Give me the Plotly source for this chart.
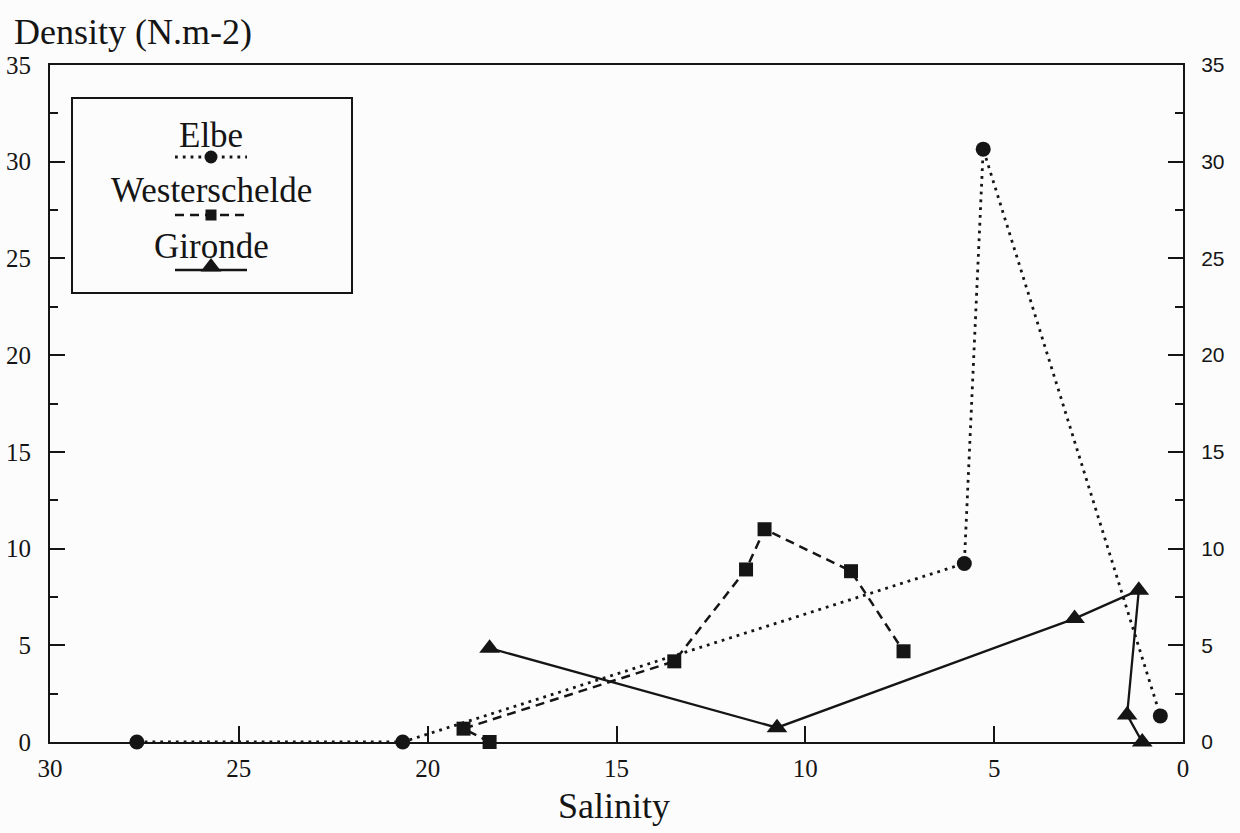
import plotly.graph_objects as go

# Salinity (x) and density (y) for each estuary
elbe_salinity = [27.7, 20.66, 5.79, 5.29, 0.6]
elbe_density = [0.0, 0.0, 9.23, 30.65, 1.35]

westerschelde_salinity = [18.36, 19.05, 13.47, 11.57, 11.08, 8.79, 7.40]
westerschelde_density = [0.0, 0.69, 4.17, 8.92, 11.0, 8.83, 4.69]

gironde_salinity = [18.36, 10.75, 2.87, 1.17, 1.48, 1.08]
gironde_density = [4.85, 0.74, 6.38, 7.85, 1.4, 0.0]

x_ticks = [30, 25, 20, 15, 10, 5, 0]
y_ticks = [0, 5, 10, 15, 20, 25, 30, 35]

series_names = ["Elbe", "Westerschelde", "Gironde"]

W, H = 1240, 833
L, R, T, B = 50, 1183, 65, 742  # plot-area edges in pixels
SERIF = "Liberation Serif"
SANS = "Liberation Sans"
INK = "#151515"

def px(xp):
    return (xp - L) / (R - L)

def py(yp):
    return (B - yp) / (B - T)

styles = [
    dict(symbol="circle", size=15, dash="2.8px,5px", width=2.8),
    dict(symbol="square", size=14, dash="9px,6px", width=2.5),
    dict(symbol="triangle-up", size=18, dash="solid", width=2.3),
]
data = [
    (elbe_salinity, elbe_density),
    (westerschelde_salinity, westerschelde_density),
    (gironde_salinity, gironde_density),
]

fig = go.Figure()
for name, (xs, ys), st in zip(series_names, data, styles):
    fig.add_trace(go.Scatter(
        x=xs, y=ys, name=name, mode="lines+markers",
        line=dict(color=INK, width=st["width"], dash=st["dash"]),
        marker=dict(symbol=st["symbol"], size=st["size"], color=INK),
        cliponaxis=False, showlegend=False,
    ))

# Hand-drawn key: box, name above a short line sample with its marker
key_box = dict(x0=72, x1=352, y0=98, y1=293)
key_rows = [(135, 157), (190, 215), (246, 270)]  # (text centre, sample line) in px
key_cx, key_x0, key_x1 = 211, 175, 247
key_sizes = [13, 11, 18]

fig.add_shape(type="rect", xref="paper", yref="paper",
              x0=px(key_box["x0"]), x1=px(key_box["x1"]),
              y0=py(key_box["y1"]), y1=py(key_box["y0"]),
              line=dict(color=INK, width=2), fillcolor="rgba(0,0,0,0)")

for name, (ty, ly), st, ms in zip(series_names, key_rows, styles, key_sizes):
    fig.add_annotation(text=name, xref="paper", yref="paper",
                       x=px(key_cx), y=py(ty), showarrow=False,
                       xanchor="center", yanchor="middle",
                       font=dict(family=SERIF, size=35, color=INK))
    fig.add_trace(go.Scatter(
        x=[key_x0, key_cx, key_x1], y=[ly, ly, ly],
        xaxis="x3", yaxis="y3", mode="lines",
        line=dict(color=INK, width=st["width"], dash=st["dash"]),
        showlegend=False, hoverinfo="skip",
    ))
    fig.add_trace(go.Scatter(
        x=[key_cx], y=[ly - (3 if st["symbol"] == "triangle-up" else 0)],
        xaxis="x3", yaxis="y3", mode="markers",
        marker=dict(symbol=st["symbol"], size=ms, color=INK),
        showlegend=False, hoverinfo="skip", cliponaxis=False,
    ))

# Second y axis only carries the right-hand tick labels
fig.add_trace(go.Scatter(x=[None], y=[None], yaxis="y2", showlegend=False))

fig.add_annotation(text="Density (N.m-2)", xref="paper", yref="paper",
                   x=px(12), y=py(32), showarrow=False,
                   xanchor="left", yanchor="middle",
                   font=dict(family=SERIF, size=36, color=INK))
fig.add_annotation(text="Salinity", xref="paper", yref="paper",
                   x=px(614), y=py(806), showarrow=False,
                   xanchor="center", yanchor="middle",
                   font=dict(family=SERIF, size=36, color=INK))

common_y = dict(
    range=[0, 35], tickvals=y_ticks, ticks="inside", ticklen=15,
    tickwidth=2, tickcolor=INK, showline=True, linewidth=2, linecolor=INK,
    showgrid=False, zeroline=False, fixedrange=True, automargin=False,
    minor=dict(dtick=2.5, ticks="inside", ticklen=8, tickwidth=2, tickcolor=INK),
)

fig.update_layout(
    width=W, height=H,
    margin=dict(l=L, r=W - R, t=T, b=H - B, autoexpand=False),
    paper_bgcolor="#fcfcfc", plot_bgcolor="#fcfcfc",
    xaxis=dict(
        range=[30, 0], tickvals=x_ticks, ticks="inside", ticklen=16,
        tickwidth=2, tickcolor=INK, showline=True, linewidth=2,
        linecolor=INK, mirror=True, showgrid=False, zeroline=False,
        tickfont=dict(family=SERIF, size=25, color=INK),
        ticklabelstandoff=3, automargin=False,
    ),
    yaxis=dict(**common_y, side="left",
               tickfont=dict(family=SERIF, size=25, color=INK),
               ticklabelstandoff=12),
    yaxis2=dict(**common_y, side="right", overlaying="y",
                tickfont=dict(family=SANS, size=21, color=INK),
                ticklabelstandoff=12),
    xaxis3=dict(range=[L, R], overlaying="x", visible=False, fixedrange=True),
    yaxis3=dict(range=[B, T], overlaying="y", visible=False, fixedrange=True),
)

fig.write_html("out.html")
